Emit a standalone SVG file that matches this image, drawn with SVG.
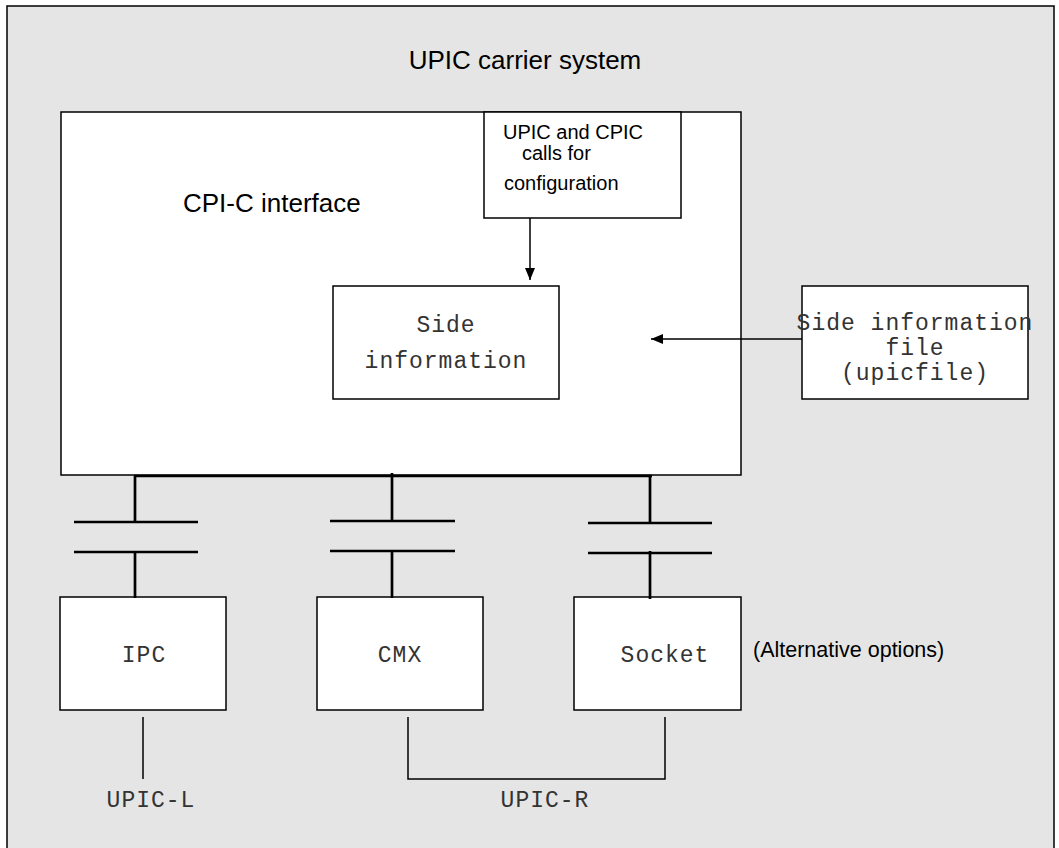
<svg xmlns="http://www.w3.org/2000/svg" width="1059" height="848" viewBox="0 0 1059 848">
<style>
.box{fill:#fff;stroke:#000;stroke-width:1.5}
.sans{font-family:"Liberation Sans",Arial,sans-serif;fill:#000}
.mono{font-family:"Liberation Mono","DejaVu Sans Mono",monospace;font-size:23px;letter-spacing:1px;fill:#333}
.thick{stroke:#000;stroke-width:2.7;fill:none}
.thin{stroke:#000;stroke-width:1.5;fill:none}
</style>
<defs>
<marker id="ah" markerWidth="12" markerHeight="10" refX="12" refY="5" orient="auto" markerUnits="userSpaceOnUse">
<path d="M0,0 L12,5 L0,10 Z" fill="#000"/>
</marker>
</defs>
<rect x="7" y="6" width="1047" height="850" fill="#e5e5e5" stroke="#000" stroke-width="1.5"/>
<text class="sans" x="525" y="69" font-size="26" text-anchor="middle">UPIC carrier system</text>

<g id="cpic">
<rect class="box" x="61" y="112" width="680" height="363"/>
<text class="sans" x="183" y="212" font-size="26">CPI-C interface</text>
</g>
<g id="config">
<rect class="box" x="484" y="112" width="197" height="106"/>
<text class="sans" x="503" y="139" font-size="20">UPIC and CPIC</text>
<text class="sans" x="522" y="160" font-size="20">calls for</text>
<text class="sans" x="504" y="190" font-size="20">configuration</text>
</g>
<g id="sideinfo">
<rect class="box" x="333" y="286" width="226" height="113"/>
<text class="mono" x="446" y="332" text-anchor="middle">Side</text>
<text class="mono" x="446" y="368" text-anchor="middle">information</text>
</g>
<g id="sidefile">
<rect class="box" x="802" y="286" width="226" height="113"/>
<text class="mono" x="915" y="330" text-anchor="middle">Side information</text>
<text class="mono" x="915" y="355" text-anchor="middle">file</text>
<text class="mono" x="915" y="380" text-anchor="middle">(upicfile)</text>
</g>
<g id="ipc">
<rect class="box" x="60" y="597" width="166" height="113"/>
<text class="mono" x="144" y="662" text-anchor="middle">IPC</text>
</g>
<g id="cmx">
<rect class="box" x="317" y="597" width="166" height="113"/>
<text class="mono" x="400" y="662" text-anchor="middle">CMX</text>
</g>
<g id="socket">
<rect class="box" x="574" y="597" width="167" height="113"/>
<text class="mono" x="665" y="662" text-anchor="middle">Socket</text>
</g>
<text class="sans" x="753" y="657" font-size="21.5">(Alternative options)</text>
<text class="mono" x="151" y="807" text-anchor="middle">UPIC-L</text>
<text class="mono" x="545" y="807" text-anchor="middle">UPIC-R</text>

<g id="connectors">
<line class="thin" x1="530" y1="218" x2="530" y2="280" marker-end="url(#ah)"/>
<line class="thin" x1="802" y1="339" x2="651" y2="339" marker-end="url(#ah)"/>
<line class="thick" x1="134" y1="476" x2="652" y2="476"/>
<line class="thick" x1="135" y1="476" x2="135" y2="522"/>
<line class="thick" x1="392" y1="473" x2="392" y2="521"/>
<line class="thick" x1="650" y1="476" x2="650" y2="523"/>
<line class="thick" x1="74" y1="522" x2="198" y2="522"/>
<line class="thick" x1="74" y1="552" x2="198" y2="552"/>
<line class="thick" x1="330" y1="521" x2="455" y2="521"/>
<line class="thick" x1="330" y1="551" x2="455" y2="551"/>
<line class="thick" x1="588" y1="523" x2="712" y2="523"/>
<line class="thick" x1="588" y1="553" x2="712" y2="553"/>
<line class="thick" x1="135" y1="552" x2="135" y2="598"/>
<line class="thick" x1="392" y1="551" x2="392" y2="598"/>
<line class="thick" x1="650" y1="551" x2="650" y2="599"/>
<line class="thin" x1="143" y1="717" x2="143" y2="779"/>
<polyline class="thin" points="408,717 408,779 665,779 665,717"/>
</g>
</svg>
